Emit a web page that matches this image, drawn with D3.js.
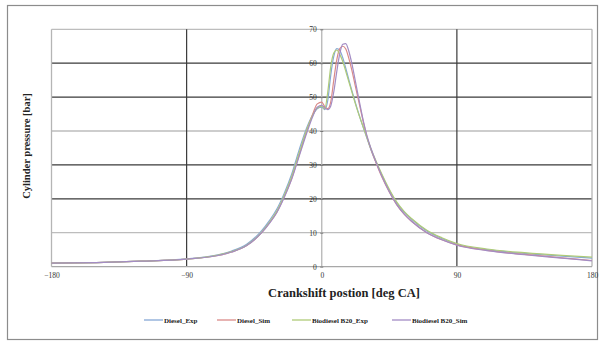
<!DOCTYPE html>
<html>
<head>
<meta charset="utf-8">
<script src="https://cdn.jsdelivr.net/npm/d3@7"></script>
<style>
  body { margin: 0; background: #fff; }
  text { font-family: "Liberation Serif", "Times New Roman", serif; }
</style>
</head>
<body>
<div id="chart"></div>
<script>
// crank angle sample points [deg CA]
const crankAngle = [-180,-150,-120,-90,-70,-60,-50,-40,-35,-30,-25,-20,-15,-10,-6,-3,0,2,4,6,8,10,12,14,16,18,20,22,24,26,28,30,33,36,40,45,50,55,60,70,80,90,110,135,160,180];

// cylinder pressure [bar]
const dieselExp = [1.0,1.2,1.6,2.3,3.4,4.6,6.6,10.6,13.5,16.9,21.6,27.3,34.5,41.0,44.8,46.6,47.0,46.3,49.0,56.5,62.0,64.3,63.8,61.6,58.5,55.2,52.0,49.0,46.0,43.2,40.6,38.0,34.2,31.0,27.0,22.5,18.8,16.0,13.9,10.5,8.3,6.6,5.0,3.9,3.1,2.5];
const dieselSim = [1.0,1.2,1.6,2.2,3.2,4.3,6.2,10.0,12.8,16.0,20.6,26.0,33.0,40.0,45.0,48.0,48.5,47.2,46.6,48.6,55.0,61.0,64.3,65.0,64.2,61.5,58.0,54.0,50.0,46.0,42.0,38.5,34.3,30.8,26.5,22.0,18.2,15.4,13.3,10.0,7.9,6.4,4.8,3.6,2.6,1.8];
const b20Exp = [1.0,1.2,1.6,2.2,3.3,4.4,6.3,10.2,13.0,16.3,21.0,26.6,33.6,40.4,44.6,46.8,47.3,46.5,51.5,59.0,63.0,63.9,62.6,60.5,57.6,54.6,51.6,48.6,45.8,43.2,40.7,38.2,34.5,31.3,27.3,22.8,19.0,16.2,14.1,10.7,8.5,6.8,5.2,4.1,3.3,2.8];
const b20Sim = [1.0,1.2,1.6,2.2,3.2,4.3,6.2,10.0,12.7,15.9,20.4,25.8,32.6,39.4,44.3,47.0,47.6,46.8,46.3,47.4,51.5,57.5,62.8,65.6,65.8,63.6,60.0,55.6,51.0,46.6,42.4,38.8,34.6,31.0,26.7,22.1,18.3,15.5,13.3,10.0,7.9,6.3,4.7,3.5,2.5,1.7];

const seriesNames = ["Diesel_Exp", "Diesel_Sim", "Biodiesel B20_Exp", "Biodiesel B20_Sim"];
const seriesValues = [dieselExp, dieselSim, b20Exp, b20Sim];
const seriesColors = ["#86a8d6", "#da8a88", "#afcb78", "#a38cc4"];

const xTicks = [-180, -90, 0, 90, 180];
const yTicks = [0, 10, 20, 30, 40, 50, 60, 70];

const width = 604, height = 343;
const margin = { top: 29.3, right: 12, bottom: 76.4, left: 51.5 };
const plotW = width - margin.left - margin.right;
const plotH = height - margin.top - margin.bottom;

const svg = d3.select('#chart')
  .append('svg')
  .attr('width', width)
  .attr('height', height);

// outer chart border
svg.append('rect')
  .attr('x', 7.5).attr('y', 5.5)
  .attr('width', 590).attr('height', 334)
  .attr('fill', 'none')
  .attr('stroke', '#8c8c8c')
  .attr('stroke-width', 1.2);

const g = svg.append('g')
  .attr('transform', `translate(${margin.left},${margin.top})`);

const xScale = d3.scaleLinear().domain([-180, 180]).range([0, plotW]);
const yScale = d3.scaleLinear().domain([0, 70]).range([plotH, 0]);

// gridlines (the scan shows some darker, some lighter)
const darkY = new Set([60, 50, 30, 20]);
g.append('g').selectAll('line')
  .data(yTicks.filter(d => d > 0))
  .enter().append('line')
  .attr('x1', 0).attr('x2', plotW)
  .attr('y1', d => yScale(d)).attr('y2', d => yScale(d))
  .attr('stroke', d => darkY.has(d) ? '#3a3a3a' : '#bdbdbd')
  .attr('stroke-width', d => darkY.has(d) ? 1.2 : 1.3);

const darkX = new Set([-90, 90]);
g.append('g').selectAll('line')
  .data(xTicks)
  .enter().append('line')
  .attr('x1', d => xScale(d)).attr('x2', d => xScale(d))
  .attr('y1', 0).attr('y2', plotH)
  .attr('stroke', d => darkX.has(d) ? '#3a3a3a' : '#b5b5b5')
  .attr('stroke-width', d => darkX.has(d) ? 1.2 : 1.3);

// bottom axis line
g.append('line')
  .attr('x1', 0).attr('x2', plotW)
  .attr('y1', plotH).attr('y2', plotH)
  .attr('stroke', '#a8a8a8').attr('stroke-width', 1.3);

// x tick labels
const xAxis = g.append('g')
  .attr('transform', `translate(0,${plotH})`)
  .call(d3.axisBottom(xScale).tickValues(xTicks).tickSize(0).tickPadding(6));
xAxis.select('.domain').remove();
xAxis.selectAll('text')
  .attr('font-family', '"Liberation Serif", serif')
  .attr('font-size', 7.5)
  .attr('fill', '#333');

// y axis sits at x = 0 deg
const yAxis = g.append('g')
  .attr('transform', `translate(${xScale(0)},0)`)
  .call(d3.axisLeft(yScale).tickValues(yTicks).tickSize(3).tickPadding(2));
yAxis.select('.domain').remove();
yAxis.selectAll('line').attr('stroke', '#777').attr('transform', 'translate(1.5,0)');
yAxis.selectAll('text')
  .attr('font-family', '"Liberation Serif", serif')
  .attr('font-size', 7.5)
  .attr('fill', '#333');

// curves
const line = d3.line()
  .x((d, i) => xScale(crankAngle[i]))
  .y(d => yScale(d))
  .curve(d3.curveMonotoneX);

g.append('g').selectAll('path')
  .data(seriesValues)
  .enter().append('path')
  .attr('d', d => line(d))
  .attr('fill', 'none')
  .attr('stroke', (d, i) => seriesColors[i])
  .attr('stroke-width', 1.2);

// axis titles
svg.append('text')
  .attr('transform', 'translate(30,146) rotate(-90)')
  .attr('text-anchor', 'middle')
  .attr('font-size', 10.5)
  .attr('font-weight', 'bold')
  .attr('fill', '#222')
  .text('Cylinder pressure [bar]');

svg.append('text')
  .attr('x', 344).attr('y', 297)
  .attr('text-anchor', 'middle')
  .attr('font-size', 12.5)
  .attr('font-weight', 'bold')
  .attr('fill', '#222')
  .text('Crankshift postion [deg CA]');

// legend
const legendX = [144, 217, 292, 392];
const legend = svg.append('g').attr('transform', 'translate(0,320)');
const items = legend.selectAll('g')
  .data(seriesNames)
  .enter().append('g')
  .attr('transform', (d, i) => `translate(${legendX[i]},0)`);
items.append('line')
  .attr('x1', 0).attr('x2', 19)
  .attr('stroke', (d, i) => seriesColors[i])
  .attr('stroke-width', 1.3);
items.append('text')
  .attr('x', 20).attr('y', 2.5)
  .attr('font-size', 7)
  .attr('font-weight', 'bold')
  .attr('fill', '#222')
  .text(d => d);
</script>
</body>
</html>
